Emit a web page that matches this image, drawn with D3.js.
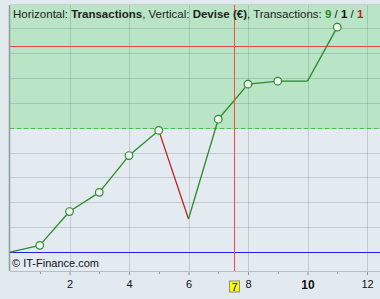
<!DOCTYPE html>
<html lang="en">
  <head>
    <meta charset="utf-8">
    <title>Equity curve</title>
    <script src="https://d3js.org/d3.v7.min.js"></script>
    <style>
      body { margin: 0; background: #e2eaf0; }
      text { font-family: "Liberation Sans", Arial, sans-serif; }
    </style>
  </head>
  <body>
    <div id="chart"></div>
    <script type="text/javascript">
      // equity after each transaction (Devise, €)
      const transactions = [0, 1, 2, 3, 4, 5, 6, 7, 8, 9, 10, 11];
      const equity = [0, 27, 163, 240, 388, 489, 133, 534, 675, 687, 687, 904];
      const xTickValues = [2, 4, 6, 8, 10, 12];
      const minorTickValues = [1, 3, 5, 7, 9, 11];
      const yGridValues = [0, 100, 200, 300, 400, 500, 600, 700, 800, 900];
      const targetLevel = 497;   // green dashed line, zone above is shaded
      const stopLevel = 830;     // red horizontal line
      const cursorX = 7.54;      // red vertical cursor
      const cursorLabel = "7";
      const counts = [9, 1, 1];  // win / flat / loss

      function drawChart() {
          let svgWidth = 380, svgHeight = 299;
          let margin = { top: 5, right: 0, bottom: 28, left: 10 };

          let svg = d3.select("#chart")
              .append("svg")
              .attr("width", svgWidth)
              .attr("height", svgHeight);

          let x = d3.scaleLinear()
              .domain([0, 1])
              .range([margin.left, margin.left + 29.75]);

          let y = d3.scaleLinear()
              .domain([-76, 993])
              .range([svgHeight - margin.bottom, margin.top]);

          let left = margin.left, right = svgWidth + 5,
              top = margin.top, bottom = svgHeight - margin.bottom;

          // plot background
          svg.append("rect")
              .attr("x", left).attr("y", top)
              .attr("width", right - left).attr("height", bottom - top)
              .attr("fill", "#e3ebf1");

          // shaded zone above target
          svg.append("rect")
              .attr("x", left).attr("y", top)
              .attr("width", right - left).attr("height", y(targetLevel) - top)
              .attr("fill", "#b9e4c5");

          // grid
          svg.append("g")
              .selectAll("line")
              .data(yGridValues)
              .join("line")
              .attr("x1", left).attr("x2", right)
              .attr("y1", d => Math.round(y(d)) + 0.5)
              .attr("y2", d => Math.round(y(d)) + 0.5)
              .attr("stroke", "#5a6e78")
              .attr("stroke-opacity", 0.25);

          svg.append("g")
              .selectAll("line")
              .data(xTickValues)
              .join("line")
              .attr("x1", d => Math.round(x(d)) + 0.5)
              .attr("x2", d => Math.round(x(d)) + 0.5)
              .attr("y1", top).attr("y2", bottom)
              .attr("stroke", "#5a6e78")
              .attr("stroke-opacity", 0.25);

          // target line
          svg.append("line")
              .attr("x1", left).attr("x2", right)
              .attr("y1", Math.round(y(targetLevel)) + 0.5)
              .attr("y2", Math.round(y(targetLevel)) + 0.5)
              .attr("stroke", "#3cc83c")
              .attr("stroke-dasharray", "4,3");

          // zero line
          svg.append("line")
              .attr("x1", left).attr("x2", right)
              .attr("y1", Math.round(y(0)) + 0.5)
              .attr("y2", Math.round(y(0)) + 0.5)
              .attr("stroke", "#2020e0");

          // red level line
          svg.append("line")
              .attr("x1", left).attr("x2", right)
              .attr("y1", Math.round(y(stopLevel)) + 0.5)
              .attr("y2", Math.round(y(stopLevel)) + 0.5)
              .attr("stroke", "#e04848");

          // border
          svg.append("line")
              .attr("x1", left).attr("x2", right)
              .attr("y1", top - 0.5).attr("y2", top - 0.5)
              .attr("stroke", "#c6d0d6");
          svg.append("line")
              .attr("x1", left - 0.5).attr("x2", left - 0.5)
              .attr("y1", top).attr("y2", bottom)
              .attr("stroke", "#8c9c9c").attr("stroke-width", 1.5);
          svg.append("line")
              .attr("x1", left).attr("x2", right)
              .attr("y1", bottom + 0.5).attr("y2", bottom + 0.5)
              .attr("stroke", "#b4c0c6");

          // equity segments
          let pts = transactions.map((t, i) => ({ t: t, v: equity[i] }));
          let segs = d3.pairs(pts);
          svg.append("g")
              .selectAll("line")
              .data(segs)
              .join("line")
              .attr("x1", d => x(d[0].t)).attr("y1", d => y(d[0].v))
              .attr("x2", d => x(d[1].t)).attr("y2", d => y(d[1].v))
              .attr("stroke", d => d[1].v < d[0].v ? "#c02020" : "#2a8c2a")
              .attr("stroke-width", 1.3);

          svg.append("g")
              .selectAll("circle")
              .data(segs.filter(d => d[1].v > d[0].v))
              .join("circle")
              .attr("cx", d => x(d[1].t))
              .attr("cy", d => y(d[1].v))
              .attr("r", 3.8)
              .attr("fill", "#f4f8f4")
              .attr("stroke", "#2a8c2a")
              .attr("stroke-width", 1.2);

          // cursor
          svg.append("line")
              .attr("x1", Math.round(x(cursorX)) + 0.5)
              .attr("x2", Math.round(x(cursorX)) + 0.5)
              .attr("y1", top).attr("y2", bottom)
              .attr("stroke", "#ff4848");

          // x axis
          let axis = svg.append("g")
              .attr("transform", "translate(0," + (bottom + 1) + ")")
              .call(d3.axisBottom(x)
                  .tickValues(xTickValues)
                  .tickFormat(d3.format("d"))
                  .tickSize(3)
                  .tickPadding(5));
          axis.select(".domain").remove();
          axis.selectAll(".tick line").attr("stroke", "#8a969c");
          axis.selectAll(".tick text")
              .attr("fill", "#111")
              .attr("font-weight", d => d === 10 ? "bold" : "normal")
              .attr("font-size", d => d === 10 ? 12 : 11);

          svg.append("g")
              .selectAll("line")
              .data(minorTickValues)
              .join("line")
              .attr("x1", d => Math.round(x(d)) + 0.5)
              .attr("x2", d => Math.round(x(d)) + 0.5)
              .attr("y1", bottom + 1).attr("y2", bottom + 3)
              .attr("stroke", "#8a969c");

          // cursor label
          let cx = Math.round(x(cursorX)) + 0.5;
          svg.append("rect")
              .attr("x", cx - 5).attr("y", bottom + 10)
              .attr("width", 10).attr("height", 11)
              .attr("fill", "#ffff00")
              .attr("stroke", "#8c8c8c");
          svg.append("text")
              .attr("x", cx).attr("y", bottom + 19.5)
              .attr("text-anchor", "middle")
              .attr("font-size", 11)
              .attr("fill", "#111")
              .text(cursorLabel);

          // copyright
          svg.append("text")
              .attr("x", 12).attr("y", bottom - 4)
              .attr("font-size", 11)
              .attr("fill", "#111")
              .text("\u00a9 IT-Finance.com");

          // title
          let title = svg.append("text")
              .attr("x", 13).attr("y", top + 13)
              .attr("font-size", 11.5)
              .attr("fill", "#222");
          title.append("tspan").text("Horizontal: ");
          title.append("tspan").attr("font-weight", "bold").text("Transactions");
          title.append("tspan").text(", Vertical: ");
          title.append("tspan").attr("font-weight", "bold").text("Devise (\u20ac)");
          title.append("tspan").text(", Transactions: ");
          title.append("tspan").attr("font-weight", "bold").attr("fill", "#2a8c2a").text(counts[0]);
          title.append("tspan").text(" / ");
          title.append("tspan").attr("font-weight", "bold").attr("fill", "#111").text(counts[1]);
          title.append("tspan").text(" / ");
          title.append("tspan").attr("font-weight", "bold").attr("fill", "#c02020").text(counts[2]);
      }

      drawChart();
    </script>
  </body>
</html>
